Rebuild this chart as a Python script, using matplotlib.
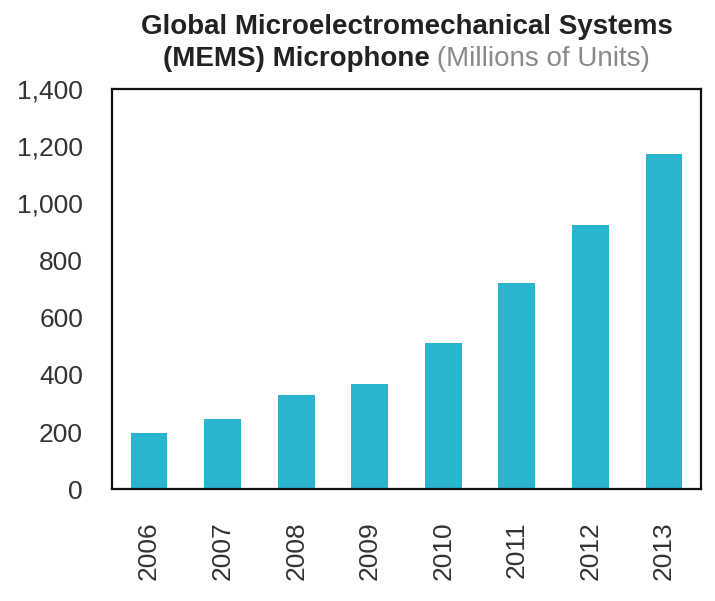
import matplotlib
matplotlib.use("Agg")
import matplotlib.pyplot as plt

# Units shipped per year (millions)
anos = ["2006", "2007", "2008", "2009", "2010", "2011", "2012", "2013"]
unidades = [195, 245, 328, 367, 513, 720, 925, 1173]
yticks = [0, 200, 400, 600, 800, 1000, 1200, 1400]

plt.rcParams['font.family'] = ['Liberation Sans', 'DejaVu Sans']

fig = plt.figure(figsize=(7.15, 6.01), dpi=100)
ax = fig.add_axes([0.157, 0.186, 0.823, 0.666])

x = range(len(anos))
ax.bar(x, unidades, width=0.5, color="#29B5CE")

ax.set_xlim(-0.5, len(anos) - 0.5)
ax.set_ylim(0, 1400)
ax.set_yticks(yticks)
ax.set_yticklabels(["{:,}".format(v) for v in yticks], fontsize=19, color="#333333")
ax.set_xticks(list(x))
ax.set_xticklabels(anos, rotation=90, fontsize=19, color="#333333")
ax.tick_params(axis="y", length=0, pad=21)
ax.tick_params(axis="x", length=0, pad=23)
for s in ax.spines.values():
    s.set_linewidth(1.6)
    s.set_color("#111111")

# titulo em duas linhas, a segunda com parte normal em cinza
xc = (0.157 + 0.980) / 2
fig.text(xc, 1 - 27 / 601, "Global Microelectromechanical Systems", ha="center", va="center",
         fontsize=20, fontweight="bold", color="#222222")
t_a = fig.text(0, 1 - 59 / 601, "(MEMS) Microphone", ha="left", va="center",
               fontsize=20, fontweight="bold", color="#222222")
t_b = fig.text(0, 1 - 59 / 601, " (Millions of Units)", ha="left", va="center",
               fontsize=20, color="#8a8a8a")
fig.canvas.draw()
r = fig.canvas.get_renderer()
wa = t_a.get_window_extent(r).width / fig.bbox.width
wb = t_b.get_window_extent(r).width / fig.bbox.width
x0 = xc - (wa + wb) / 2
t_a.set_x(x0)
t_b.set_x(x0 + wa)

fig.savefig("out.png", dpi=100, facecolor="white")
